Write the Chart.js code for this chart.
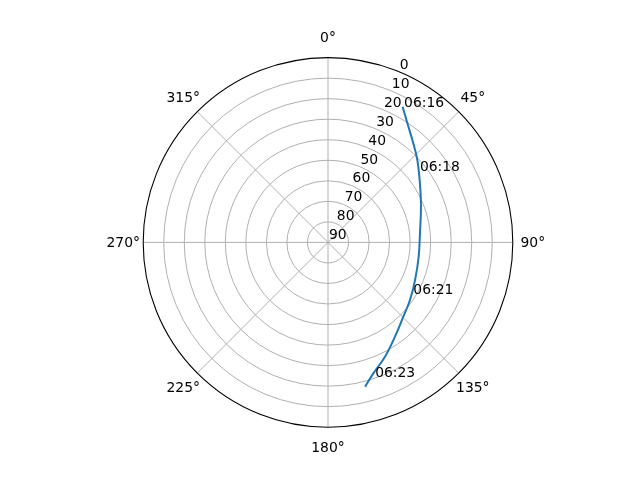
<!DOCTYPE html>
<html>
<head>
<meta charset="utf-8">
<script src="https://cdn.jsdelivr.net/npm/chart.js@4/dist/chart.umd.min.js"></script>
<style>
  html, body { margin: 0; padding: 0; background: #fff; }
  #wrap { width: 640px; height: 480px; }
</style>
</head>
<body>
<div id="wrap"><canvas id="polarChart" width="640" height="480"></canvas></div>
<script>
// satellite track, azimuth (deg, clockwise from north) and elevation (deg)
const azimuth = [28.8, 33.7, 40.7, 47.3, 57.3, 69.0, 84.4, 99.0, 113.4, 125.1, 134.6, 144.6, 153.5, 160.9, 165.6];
const elevation = [14.6, 20.3, 26.3, 30.8, 36.8, 41.5, 45.0, 45.3, 43.8, 41.2, 38.5, 33.7, 27.8, 22.5, 17.4];

// time annotations along the track
const timeLabels = ["06:16", "06:18", "06:21", "06:23"];
const timeAzimuth = [28.8, 51.7, 121.5, 161.2];
const timeElevation = [14.6, 33.9, 42.1, 21.0];

// axis ticks
const radialTicks = [0, 10, 20, 30, 40, 50, 60, 70, 80, 90];
const angleTicks = [0, 45, 90, 135, 180, 225, 270, 315];
const angleLabels = ["0°", "45°", "90°", "135°", "180°", "225°", "270°", "315°"];

const FONT = "13.9px 'DejaVu Sans'";

// elevation 90 at centre, 0 at the rim
function toXY(az, el) {
  const r = 90 - el;
  const a = az * Math.PI / 180;
  return { x: r * Math.sin(a), y: r * Math.cos(a) };
}

const track = azimuth.map((az, i) => toXY(az, elevation[i]));

const polarGrid = {
  id: "polarGrid",
  beforeDatasetsDraw(chart) {
    const ctx = chart.ctx;
    const xs = chart.scales.x, ys = chart.scales.y;
    const cx = xs.getPixelForValue(0), cy = ys.getPixelForValue(0);
    const R = xs.getPixelForValue(90) - cx;
    ctx.save();
    ctx.strokeStyle = "#b0b0b0";
    ctx.lineWidth = 1;
    radialTicks.forEach((t) => {
      const r = (90 - t) / 90 * R;
      if (t === 0 || r <= 0) return;
      ctx.beginPath();
      ctx.arc(cx, cy, r, 0, Math.PI * 2);
      ctx.stroke();
    });
    angleTicks.forEach((a) => {
      const p = toXY(a, 0);
      ctx.beginPath();
      ctx.moveTo(cx, cy);
      ctx.lineTo(xs.getPixelForValue(p.x), ys.getPixelForValue(p.y));
      ctx.stroke();
    });
    ctx.restore();
  },
  afterDatasetsDraw(chart) {
    const ctx = chart.ctx;
    const xs = chart.scales.x, ys = chart.scales.y;
    const cx = xs.getPixelForValue(0), cy = ys.getPixelForValue(0);
    const R = xs.getPixelForValue(90) - cx;
    ctx.save();
    // outer spine
    ctx.strokeStyle = "#000";
    ctx.lineWidth = 1.1;
    ctx.beginPath();
    ctx.arc(cx, cy, R, 0, Math.PI * 2);
    ctx.stroke();

    ctx.fillStyle = "#000";
    ctx.font = FONT;
    // angle labels
    ctx.textAlign = "center";
    ctx.textBaseline = "middle";
    angleTicks.forEach((a, i) => {
      const rad = a * Math.PI / 180;
      const d = R + 20;
      ctx.fillText(angleLabels[i], cx + d * Math.sin(rad), cy - d * Math.cos(rad) + 1);
    });
    // radial labels along 22.5°
    ctx.textAlign = "left";
    ctx.textBaseline = "alphabetic";
    radialTicks.forEach((t) => {
      const p = toXY(22.5, t);
      ctx.fillText(String(t), xs.getPixelForValue(p.x) + 1, ys.getPixelForValue(p.y) - 3);
    });
    // time annotations
    timeLabels.forEach((lbl, i) => {
      const p = toXY(timeAzimuth[i], timeElevation[i]);
      ctx.fillText(lbl, xs.getPixelForValue(p.x) + 1.5, ys.getPixelForValue(p.y));
    });
    ctx.restore();
  }
};

new Chart(document.getElementById("polarChart"), {
  type: "scatter",
  data: {
    datasets: [
      {
        data: track,
        showLine: true,
        borderColor: "#1f77b4",
        borderWidth: 2,
        pointRadius: 0,
        tension: 0.4,
        fill: false,
      },
    ],
  },
  options: {
    responsive: false,
    animation: false,
    devicePixelRatio: 1,
    layout: {
      padding: { left: 143.2, right: 127.2, top: 57.6, bottom: 52.8 },
    },
    plugins: {
      legend: { display: false },
      tooltip: { enabled: false },
    },
    scales: {
      x: { type: "linear", min: -90, max: 90, display: false },
      y: { type: "linear", min: -90, max: 90, display: false },
    },
  },
  plugins: [polarGrid],
});
</script>
</body>
</html>
